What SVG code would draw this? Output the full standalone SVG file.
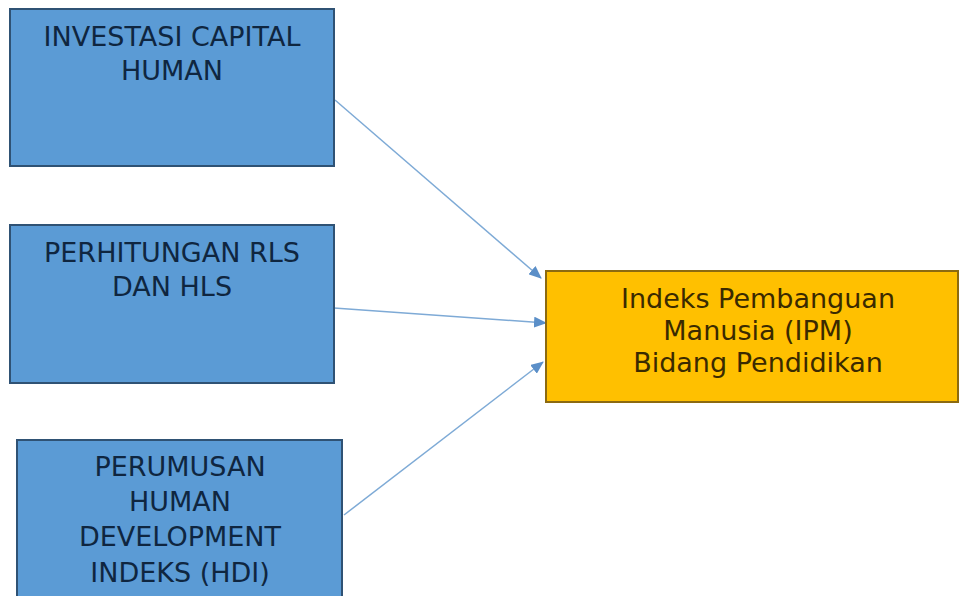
<svg xmlns="http://www.w3.org/2000/svg" width="960" height="596" viewBox="0 0 960 596">
<style>
.blue{fill:#5b9bd5;stroke:#2f5274;stroke-width:2}
.gold{fill:#ffc000;stroke:#8c6a10;stroke-width:2}
.t{font-family:"DejaVu Sans",sans-serif;font-size:27px;text-anchor:middle;fill:#0f2640}
.ty{font-family:"DejaVu Sans",sans-serif;font-size:27px;text-anchor:middle;fill:#3a2a00}
.c{stroke:#7eaad6;stroke-width:1.5;fill:none;marker-end:url(#ah)}
</style>
<defs>
<marker id="ah" markerWidth="13" markerHeight="11" refX="12" refY="5.5" orient="auto" markerUnits="userSpaceOnUse">
<path d="M0,0 L13,5.5 L0,11 z" fill="#5b8fc8"/>
</marker>
</defs>
<rect width="960" height="596" fill="#ffffff"/>
<g id="connectors">
<line class="c" x1="335" y1="100" x2="541" y2="278"/>
<line class="c" x1="334" y1="308" x2="546" y2="323"/>
<line class="c" x1="344" y1="515" x2="543" y2="362"/>
</g>
<g id="n1">
<rect class="blue" x="10" y="9" width="324" height="157"/>
<text class="t" x="172" y="46">INVESTASI CAPITAL</text>
<text class="t" x="172" y="80">HUMAN</text>
</g>
<g id="n2">
<rect class="blue" x="10" y="225" width="324" height="158"/>
<text class="t" x="172" y="262">PERHITUNGAN RLS</text>
<text class="t" x="172" y="296">DAN HLS</text>
</g>
<g id="n3">
<rect class="blue" x="17" y="440" width="325" height="170"/>
<text class="t" x="180" y="476">PERUMUSAN</text>
<text class="t" x="180" y="511">HUMAN</text>
<text class="t" x="180" y="546">DEVELOPMENT</text>
<text class="t" x="180" y="582">INDEKS (HDI)</text>
</g>
<g id="n4">
<rect class="gold" x="546" y="271" width="412" height="131"/>
<text class="ty" x="758" y="308">Indeks Pembanguan</text>
<text class="ty" x="758" y="340">Manusia (IPM)</text>
<text class="ty" x="758" y="372">Bidang Pendidikan</text>
</g>
</svg>
